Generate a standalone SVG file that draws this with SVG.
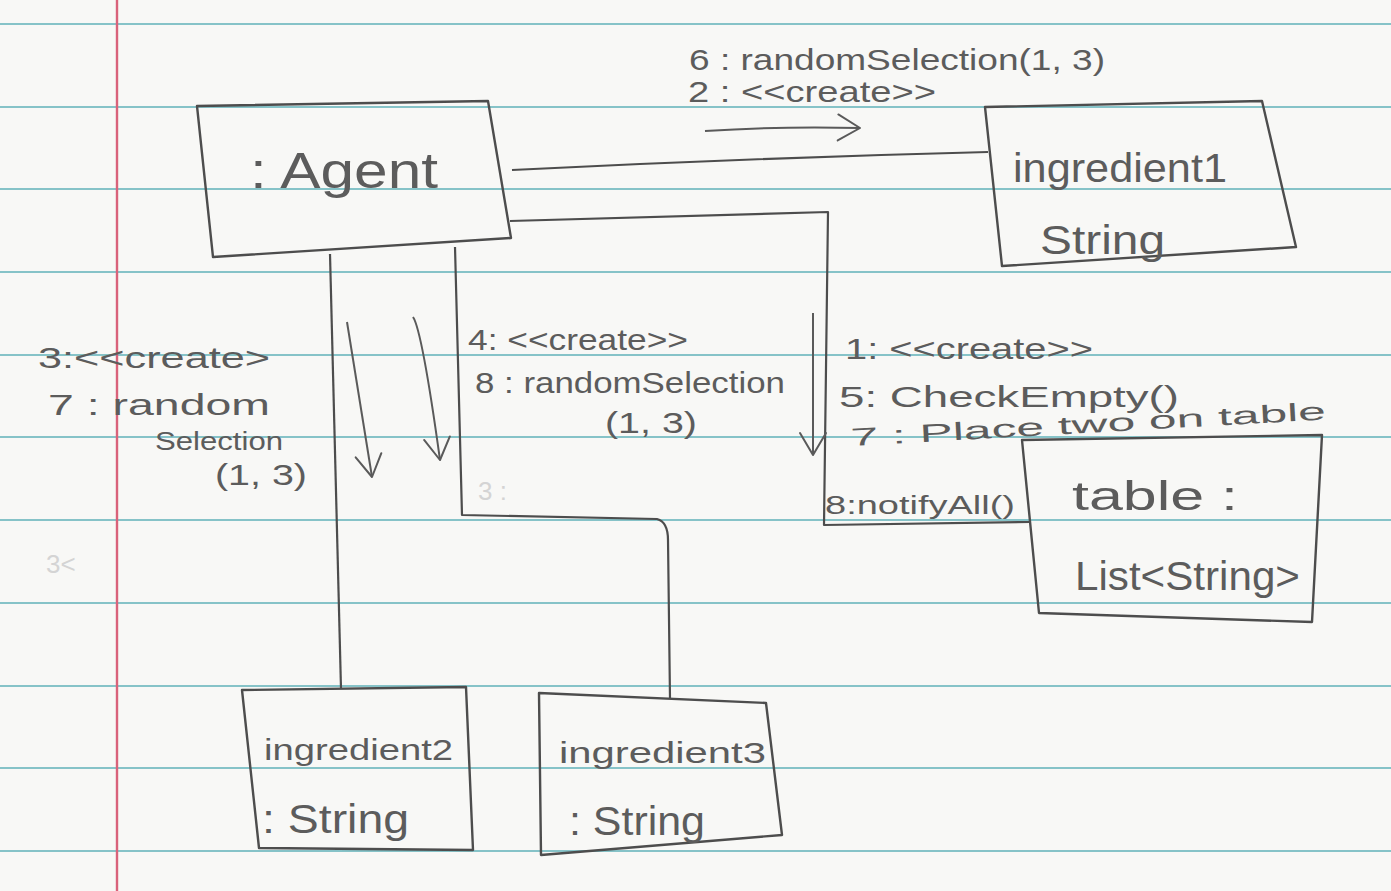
<svg xmlns="http://www.w3.org/2000/svg" width="1391" height="891" viewBox="0 0 1391 891">
  <style>
    .rule { stroke: #86c3c8; stroke-width: 2.2; }
    .margin { stroke: #d9627a; stroke-width: 2.4; }
    .box { fill: none; stroke: #4d4d4d; stroke-width: 2.4; stroke-linejoin: round; }
    .link { fill: none; stroke: #4d4d4d; stroke-width: 2.2; stroke-linejoin: round; }
    .msg { fill: none; stroke: #5a5a5a; stroke-width: 2; marker-end: url(#vhead); }
    text { font-family: "Liberation Sans", "DejaVu Sans", sans-serif; fill: #5c5c5c; }
    .big { font-size: 50px; }
    .name { font-size: 40px; }
    .lbl { font-size: 30px; }
    .small { font-size: 25px; }
    .ghost { fill: #d4d4d4; font-size: 26px; }
  </style>
  <defs>
    <marker id="vhead" viewBox="-26 -16 30 32" markerUnits="userSpaceOnUse" markerWidth="30" markerHeight="32" refX="0" refY="0" orient="auto">
      <path d="M-22,-13 L0,0 L-22,13" fill="none" stroke="#5a5a5a" stroke-width="2" stroke-linecap="round" stroke-linejoin="round"/>
    </marker>
  </defs>

  <!-- ruled paper -->
  <rect width="1391" height="891" fill="#f8f8f6"/>
  <g id="paper">
    <line class="rule" x1="0" y1="24" x2="1391" y2="24"/>
    <line class="rule" x1="0" y1="107" x2="1391" y2="107"/>
    <line class="rule" x1="0" y1="189" x2="1391" y2="189"/>
    <line class="rule" x1="0" y1="272" x2="1391" y2="272"/>
    <line class="rule" x1="0" y1="355" x2="1391" y2="355"/>
    <line class="rule" x1="0" y1="437" x2="1391" y2="437"/>
    <line class="rule" x1="0" y1="520" x2="1391" y2="520"/>
    <line class="rule" x1="0" y1="603" x2="1391" y2="603"/>
    <line class="rule" x1="0" y1="686" x2="1391" y2="686"/>
    <line class="rule" x1="0" y1="768" x2="1391" y2="768"/>
    <line class="rule" x1="0" y1="851" x2="1391" y2="851"/>
    <line class="margin" x1="117" y1="0" x2="117" y2="891"/>
  </g>

  <!-- erased pencil marks -->
  <g id="erased">
    <text class="ghost" x="46" y="573">3&lt;</text>
    <text class="ghost" x="478" y="500">3 :</text>
  </g>

  <!-- connectors -->
  <g id="connectors">
    <!-- Agent to ingredient1 -->
    <path class="link" d="M512,170 Q750,158 988,152"/>
    <!-- Agent to table (via notifyAll corner) -->
    <path class="link" d="M510,221 L828,212 L824,525 L1030,522"/>
    <!-- Agent to ingredient2 -->
    <path class="link" d="M330,254 L341,689"/>
    <!-- Agent to ingredient3 -->
    <path class="link" d="M455,247 L462,515 L657,519 Q668,522 668,540 L670,699"/>

    <!-- message arrows -->
    <path class="msg" d="M705,131 Q780,126 860,128"/>
    <path class="msg" d="M347,322 L372,477"/>
    <path class="msg" d="M413,317 Q422,330 440,460"/>
    <path class="msg" d="M813,313 L813,455"/>

    <!-- message labels -->
    <text class="lbl" x="689" y="70" textLength="416" lengthAdjust="spacingAndGlyphs">6 : randomSelection(1, 3)</text>
    <text class="lbl" x="688" y="102" textLength="248" lengthAdjust="spacingAndGlyphs">2 : &lt;&lt;create&gt;&gt;</text>

    <text class="lbl" x="38" y="368" textLength="232" lengthAdjust="spacingAndGlyphs">3:&lt;&lt;create&gt;</text>
    <text class="lbl" x="48" y="415" textLength="222" lengthAdjust="spacingAndGlyphs">7 : random</text>
    <text class="small" x="155" y="450" textLength="128" lengthAdjust="spacingAndGlyphs">Selection</text>
    <text class="lbl" x="215" y="485" textLength="92" lengthAdjust="spacingAndGlyphs">(1, 3)</text>

    <text class="lbl" x="468" y="350" textLength="220" lengthAdjust="spacingAndGlyphs">4: &lt;&lt;create&gt;&gt;</text>
    <text class="lbl" x="475" y="393" textLength="310" lengthAdjust="spacingAndGlyphs">8 : randomSelection</text>
    <text class="lbl" x="605" y="433" textLength="92" lengthAdjust="spacingAndGlyphs">(1, 3)</text>

    <text class="lbl" x="845" y="359" textLength="248" lengthAdjust="spacingAndGlyphs">1: &lt;&lt;create&gt;&gt;</text>
    <text class="lbl" x="839" y="407" textLength="340" lengthAdjust="spacingAndGlyphs">5: CheckEmpty()</text>
    <text class="small" x="851" y="446" textLength="476" lengthAdjust="spacingAndGlyphs" transform="rotate(-3.2 851 446)">7 : Place two on table</text>
    <text class="small" x="825" y="514" textLength="190" lengthAdjust="spacingAndGlyphs">8:notifyAll()</text>
  </g>

  <!-- objects -->
  <g id="agent">
    <polygon class="box" points="197,106 488,101 511,238 213,257"/>
    <text class="big" x="250" y="188" textLength="188" lengthAdjust="spacingAndGlyphs">: Agent</text>
  </g>

  <g id="ingredient1">
    <polygon class="box" points="985,107 1262,101 1296,247 1002,266"/>
    <text class="name" x="1013" y="182" textLength="214" lengthAdjust="spacingAndGlyphs">ingredient1</text>
    <text class="name" x="1040" y="254" textLength="125" lengthAdjust="spacingAndGlyphs">String</text>
  </g>

  <g id="table">
    <polygon class="box" points="1022,440 1322,435 1312,622 1039,613"/>
    <text class="name" x="1072" y="510" textLength="166" lengthAdjust="spacingAndGlyphs">table :</text>
    <text class="name" x="1075" y="590" textLength="225" lengthAdjust="spacingAndGlyphs">List&lt;String&gt;</text>
  </g>

  <g id="ingredient2">
    <polygon class="box" points="242,690 466,687 473,850 259,848"/>
    <text class="lbl" x="264" y="760" textLength="189" lengthAdjust="spacingAndGlyphs">ingredient2</text>
    <text class="name" x="262" y="833" textLength="147" lengthAdjust="spacingAndGlyphs">: String</text>
  </g>

  <g id="ingredient3">
    <polygon class="box" points="539,693 766,703 782,835 541,855"/>
    <text class="lbl" x="559" y="763" textLength="207" lengthAdjust="spacingAndGlyphs">ingredient3</text>
    <text class="name" x="569" y="835" textLength="136" lengthAdjust="spacingAndGlyphs">: String</text>
  </g>
</svg>
